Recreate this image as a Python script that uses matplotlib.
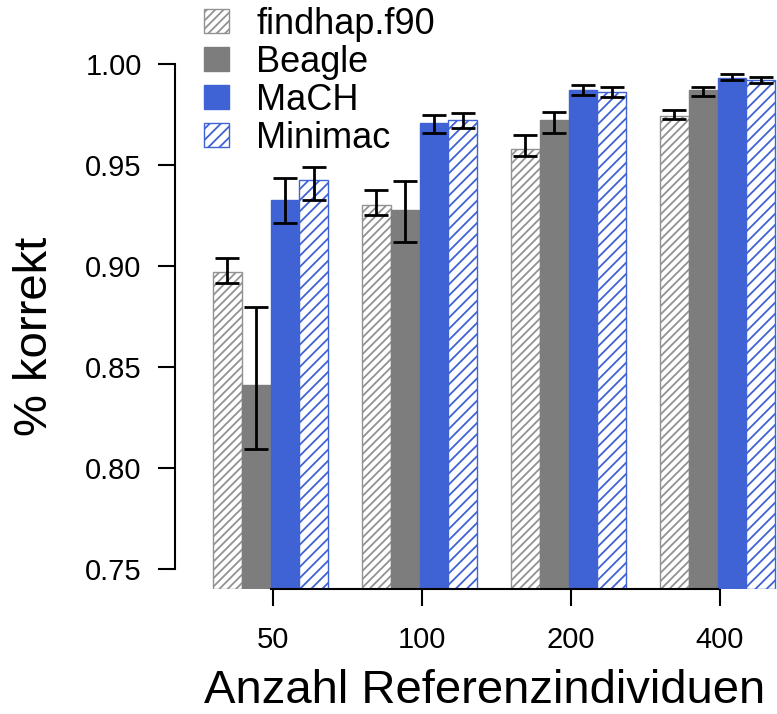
import matplotlib
matplotlib.use("Agg")
import matplotlib.pyplot as plt
import numpy as np

# data
groups = ["50", "100", "200", "400"]
methods = ["findhap.f90", "Beagle", "MaCH", "Minimac"]

findhap = [0.8972, 0.9300, 0.9582, 0.9743]
beagle = [0.8412, 0.9279, 0.9722, 0.9872]
mach = [0.9328, 0.9707, 0.9872, 0.9934]
minimac = [0.9425, 0.9723, 0.9864, 0.9920]

# lower / upper ends of the error bars
findhap_lo = [0.8915, 0.9251, 0.9544, 0.9727]
findhap_hi = [0.9039, 0.9375, 0.9648, 0.9771]
beagle_lo = [0.8094, 0.9118, 0.9657, 0.9842]
beagle_hi = [0.8798, 0.9423, 0.9765, 0.9889]
mach_lo = [0.9213, 0.9660, 0.9847, 0.9920]
mach_hi = [0.9437, 0.9748, 0.9897, 0.9950]
minimac_lo = [0.9329, 0.9682, 0.9839, 0.9906]
minimac_hi = [0.9491, 0.9756, 0.9889, 0.9937]

yticks = [0.75, 0.80, 0.85, 0.90, 0.95, 1.00]

BLUE = "#3f62d4"
GRAY = "#7d7d7d"
HATCH_GRAY = "#929292"

plt.rcParams["font.family"] = ["Liberation Sans", "DejaVu Sans"]
plt.rcParams["hatch.linewidth"] = 1.3

fig = plt.figure(figsize=(7.77, 7.14), dpi=100)
ax = fig.add_axes([175 / 777, 125 / 714, 602 / 777, 545 / 714])

x = np.arange(len(groups))
w = 0.193
base = 0.74

styles = [
    dict(facecolor="white", edgecolor=HATCH_GRAY, hatch="////"),
    dict(facecolor=GRAY, edgecolor=GRAY),
    dict(facecolor=BLUE, edgecolor=BLUE),
    dict(facecolor="white", edgecolor=BLUE, hatch="///"),
]
values = [findhap, beagle, mach, minimac]
lows = [findhap_lo, beagle_lo, mach_lo, minimac_lo]
highs = [findhap_hi, beagle_hi, mach_hi, minimac_hi]

handles = []
for k, st in enumerate(styles):
    pos = x + (k - 1.5) * w
    vals = np.array(values[k])
    b = ax.bar(pos, vals - base, bottom=base, width=w, linewidth=1.0,
               label=methods[k], **st)
    handles.append(b)
    lo, hi = np.array(lows[k]), np.array(highs[k])
    mid = (lo + hi) / 2
    ax.errorbar(pos, mid, yerr=(hi - lo) / 2, fmt="none", ecolor="black",
                elinewidth=2, capsize=8.5, capthick=2)

ax.set_xlim(-0.641, 3.399)
ax.set_ylim(0.74, 1.01)

for side in ["top", "right"]:
    ax.spines[side].set_visible(False)
ax.spines["left"].set_bounds(0.75, 1.00)
ax.spines["bottom"].set_bounds(0, 3)
ax.spines["left"].set_linewidth(1.5)
ax.spines["bottom"].set_linewidth(1.5)

ax.set_yticks(yticks)
ax.set_yticklabels([f"{t:.2f}" for t in yticks])
ax.set_xticks(x + 0.015)
ax.set_xticklabels(groups)
ax.tick_params(axis="both", length=12, width=1.5, labelsize=21, direction="out")
ax.tick_params(axis="y", pad=12)
ax.tick_params(axis="x", pad=15)

fig.text(485 / 777, 11 / 714, "Anzahl Referenzindividuen", fontsize=34,
         ha="center", va="baseline")
fig.text(35 / 777, 1 - 336 / 714, "% korrekt", fontsize=34, rotation=90,
         ha="center", va="center")

fig.legend(handles=handles, loc="upper left", bbox_to_anchor=(204 / 777, 1 - 7 / 714),
           frameon=False, fontsize=26, borderpad=0, borderaxespad=0,
           handlelength=0.7, handleheight=0.65, handletextpad=0.75,
           labelspacing=0.08)

fig.savefig("out.png", dpi=100)
